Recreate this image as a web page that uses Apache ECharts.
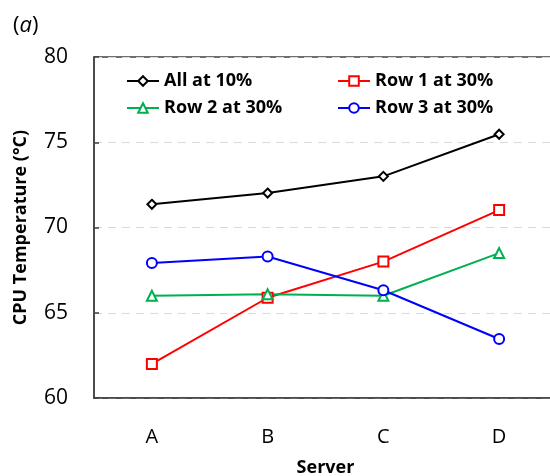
<!DOCTYPE html>
<html>
<head>
<meta charset="utf-8">
<script src="https://cdn.jsdelivr.net/npm/echarts@6/dist/echarts.min.js"></script>
<style>
  html, body { margin: 0; padding: 0; background: #fff; overflow: hidden; }
  #chart { width: 550px; height: 476px; }
</style>
</head>
<body>
<div id="chart"></div>
<script>
// Servers along the x axis
const servers = ['A', 'B', 'C', 'D'];

// CPU temperature (°C) per server for each load configuration
const allAt10 = [71.36, 72.02, 73.0, 75.47];
const row1At30 = [62.0, 65.88, 68.0, 71.02];
const row2At30 = [66.0, 66.08, 66.0, 68.5];
const row3At30 = [67.92, 68.3, 66.32, 63.46];

// Temperature axis
const yMin = 60, yMax = 80, yStep = 5;

const FONT = '"Open Sans", "Liberation Sans", sans-serif';
const AXIS_COLOR = '#404040';

function lineSeries(name, data, color, symbol, size) {
  return {
    name: name,
    type: 'line',
    data: data,
    symbol: symbol,
    symbolSize: size,
    showAllSymbol: true,
    lineStyle: { color: color, width: 2 },
    itemStyle: { color: '#fff', borderColor: color, borderWidth: 2 },
    emphasis: { disabled: true },
    z: 3
  };
}

const legendText = { fontFamily: FONT, fontSize: 18, fontWeight: 'bold', color: '#000' };

const chart = echarts.init(document.getElementById('chart'), null, { renderer: 'canvas' });
chart.setOption({
  animation: false,
  backgroundColor: '#fff',
  title: {
    left: 8, top: 10,
    text: '{p|(}{i|a}{p|)}',
    textStyle: {
      fontWeight: 'normal',
      rich: {
        p: { fontFamily: FONT, fontSize: 22, fontWeight: 'normal', color: '#000' },
        i: { fontFamily: FONT, fontSize: 22, fontWeight: 'normal', fontStyle: 'italic', color: '#000' }
      }
    }
  },
  legend: [
    {
      data: ['All at 10%', 'Row 2 at 30%'],
      orient: 'vertical', left: 121, top: 67, itemGap: 9,
      itemWidth: 32, itemHeight: 12,
      textStyle: legendText
    },
    {
      data: ['Row 1 at 30%', 'Row 3 at 30%'],
      orient: 'vertical', left: 332, top: 67, itemGap: 9,
      itemWidth: 32, itemHeight: 12,
      textStyle: legendText
    }
  ],
  grid: {
    // the frame's right side lies just beyond the canvas edge
    left: 94, top: 57, width: 463, height: 341,
    outerBoundsMode: 'none',
    show: true, borderColor: AXIS_COLOR, borderWidth: 1.5,
    containLabel: false
  },
  xAxis: {
    type: 'category',
    data: servers,
    boundaryGap: true,
    name: 'Server',
    nameLocation: 'middle',
    nameGap: 61,
    nameTextStyle: { fontFamily: FONT, fontSize: 18, fontWeight: 'bold', color: '#000' },
    axisLine: { lineStyle: { color: AXIS_COLOR, width: 1.5 } },
    axisTick: { inside: true, length: 6, lineStyle: { color: AXIS_COLOR, width: 1.5 } },
    axisLabel: { margin: 29, fontFamily: FONT, fontSize: 20, color: '#000' },
    splitLine: { show: false }
  },
  yAxis: {
    type: 'value',
    min: yMin, max: yMax, interval: yStep,
    name: 'CPU Temperature (°C)',
    nameLocation: 'middle',
    nameGap: 64,
    nameTextStyle: { fontFamily: FONT, fontSize: 18, fontWeight: 'bold', color: '#000' },
    axisLine: { show: true, lineStyle: { color: AXIS_COLOR, width: 1.5 } },
    axisTick: { show: true, inside: true, length: 5, lineStyle: { color: AXIS_COLOR, width: 1.5 } },
    axisLabel: { margin: 26, fontFamily: FONT, fontSize: 21, color: '#000' },
    splitLine: { show: true, lineStyle: { color: '#d9d9d9', type: [8, 6], width: 1 } }
  },
  series: [
    lineSeries('All at 10%', allAt10, '#000000', 'diamond', 9),
    lineSeries('Row 1 at 30%', row1At30, '#ff0000', 'rect', 10),
    lineSeries('Row 2 at 30%', row2At30, '#00b050', 'triangle', 10),
    lineSeries('Row 3 at 30%', row3At30, '#0000ff', 'circle', 10)
  ]
});
</script>
</body>
</html>
